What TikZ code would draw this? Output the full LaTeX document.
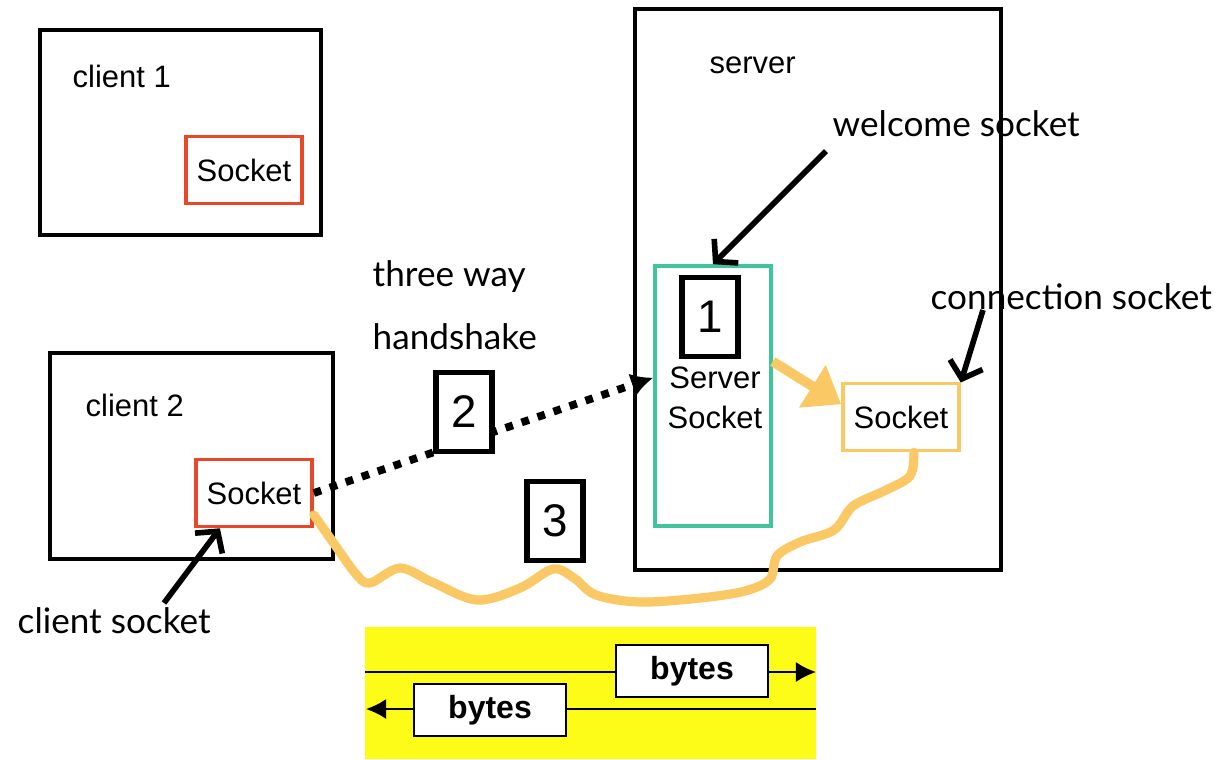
\documentclass[tikz,border=0pt]{standalone}
\usepackage{fontspec}
\setmainfont{Liberation Sans}
\newfontfamily\notefont{Lato}
\usetikzlibrary{arrows.meta}

\definecolor{sockred}{RGB}{232,72,40}
\definecolor{sockteal}{RGB}{64,196,160}
\definecolor{sockorange}{RGB}{250,200,100}
\definecolor{bandyellow}{RGB}{252,252,24}

\tikzset{
	frame/.style={draw=black, line width=1pt},
	boxtext/.style={font=\fontsize{8.8}{10.5}\selectfont, inner sep=0pt},
	notetext/.style={font=\notefont\fontsize{10}{13}\selectfont, inner sep=0pt},
	sockbox/.style={draw=sockred, line width=1pt, fill=white, minimum width=1.16cm, minimum height=0.67cm, inner sep=0pt, boxtext},
	numbox/.style={draw=black, line width=1.6pt, fill=white, minimum width=0.56cm, minimum height=0.79cm, inner sep=0pt, font=\fontsize{13}{14}\selectfont},
	bytebox/.style={draw=black, line width=0.6pt, fill=white, minimum width=1.52cm, minimum height=0.52cm, inner sep=0pt, font=\bfseries\fontsize{9.1}{11}\selectfont},
	pointer/.style={line width=1.6pt, -{Straight Barb[length=1.5mm, width=3.4mm]}},
	handshake/.style={line width=2.2pt, dash pattern=on 2.2pt off 2.6pt, -{Latex[length=2.2mm, width=2.4mm]}},
	wire/.style={draw=sockorange, line width=2.6pt, line cap=round, line join=round},
	bytewire/.style={line width=0.6pt, -{Latex[length=2mm, width=2mm]}}
}

\begin{document}
\begin{tikzpicture}[x=0.01cm, y=-0.01cm]
	\useasboundingbox (0,0) rectangle (1221,759);
	%%%%% CLIENTS %%%%%
	\draw[frame] (40,30) rectangle (321,235);
	\node[boxtext, anchor=west] (c1label) at (72,76) {client 1};
	\node[sockbox] (sock1) at (244,170) {Socket};
	
	\draw[frame] (50,353) rectangle (333,559);
	\node[boxtext, anchor=west] (c2label) at (85,405) {client 2};
	\node[sockbox] (sock2) at (254,493) {Socket};
	
	%%%%% SERVER %%%%%
	\draw[frame] (635,9) rectangle (1001,570);
	\node[boxtext, anchor=west] (srvlabel) at (709,65) {server};
	\node[draw=sockteal, line width=1pt, minimum width=1.16cm, minimum height=2.6cm] (srvsock) at (713,396) {};
	\node[numbox] (one) at (710,317) {1};
	\node[boxtext, align=center] (srvtext) at (715,398) {Server\\[1pt]Socket};
	\node[sockbox, draw=sockorange] (connsock) at (901,417) {Socket};
	\draw[draw=sockorange, line width=2.8pt, -{Triangle[length=3.4mm, width=4.8mm]}] (srvsock.30) -- (connsock.168);
	
	%%%%% NOTES %%%%%
	\node[notetext, anchor=west] (welcome) at (832,124) {welcome socket};
	\coordinate (welcometail) at (826,151);
	\draw[pointer] (welcometail) -- (srvsock.north);
	
	\node[notetext, anchor=west] (connlabel) at (930,297) {connection socket};
	\coordinate (conntail) at (983,310);
	\draw[pointer] (conntail) -- (connsock.30);
	
	\node[notetext, anchor=west] (clientsock) at (17,621) {client socket};
	\coordinate (clienttail) at (164,603);
	\draw[pointer] (clienttail) -- (sock2.-134);
	
	\node[notetext, anchor=west, align=left] (threeway) at (372,305) {three way\\[5pt]handshake};
	
	%%%%% STEPS %%%%%
	\draw[handshake] (sock2.east) -- (srvsock.163);
	\node[numbox] (two) at (464,412) {2};
	
	\draw[wire] plot[smooth, tension=0.55] coordinates {(sock2.-20) (335,545) (356,574) (370,583) (400,568) (432,582) (477,600) (520,588) (553,569) (574,578) (596,595) (640,602) (700,598) (745,591) (770,579) (777,556) (800,542) (834,530) (853,506) (884,491) (910,476) (connsock.-70)};
	\node[numbox] (three) at (555,521) {3};
	
	%%%%% BYTE STREAM %%%%%
	\fill[bandyellow] (365,627) rectangle (816,759);
	\coordinate (upin) at (365,672);
	\coordinate (upout) at (816,672);
	\coordinate (downin) at (816,709);
	\coordinate (downout) at (366,709);
	\draw[bytewire] (upin) -- (upout);
	\draw[bytewire] (downin) -- (downout);
	\node[bytebox] (bytesup) at (692,671) {bytes};
	\node[bytebox] (bytesdown) at (490,710) {bytes};
\end{tikzpicture}
\end{document}
